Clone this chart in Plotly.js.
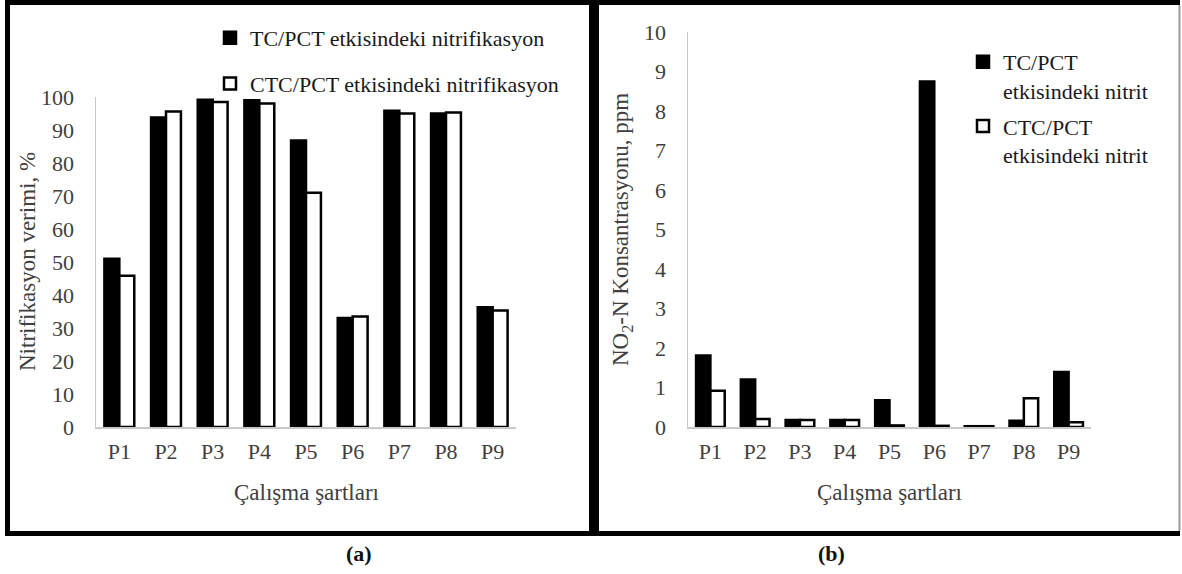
<!DOCTYPE html>
<html>
<head>
<meta charset="utf-8">
<script src="https://cdn.plot.ly/plotly-3.0.1.min.js"></script>
<style>
  html, body { margin: 0; padding: 0; background: #ffffff; }
  #chart { width: 1182px; height: 574px; }
</style>
</head>
<body>
<div id="chart"></div>
<script>
// ---- data ----
const categories = ['P1', 'P2', 'P3', 'P4', 'P5', 'P6', 'P7', 'P8', 'P9'];

// (a) Nitrifikasyon verimi, %
const nitrifikasyonTC  = [51, 93.8, 99.2, 99, 86.8, 33, 95.8, 95, 36.3];
const nitrifikasyonCTC = [45.8, 95.6, 98.5, 98, 71, 33.5, 95, 95.3, 35.3];

// (b) NO2-N Konsantrasyonu, ppm
const nitritTC  = [1.81, 1.2, 0.18, 0.18, 0.68, 8.75, 0.02, 0.16, 1.39];
const nitritCTC = [0.92, 0.2, 0.18, 0.18, 0.04, 0.03, 0.02, 0.73, 0.12];

const yTicksA = [0, 10, 20, 30, 40, 50, 60, 70, 80, 90, 100];
const yTicksB = [0, 1, 2, 3, 4, 5, 6, 7, 8, 9, 10];

const legendNamesA = ['TC/PCT etkisindeki nitrifikasyon', 'CTC/PCT etkisindeki nitrifikasyon'];
const legendNamesB = ['TC/PCT<br>etkisindeki nitrit', 'CTC/PCT<br>etkisindeki nitrit'];

// ---- styling ----
const W = 1182, H = 574;
const SERIF = "'Liberation Serif', 'Times New Roman', serif";
const px = x => x / W;
const py = y => 1 - y / H;

const traces = [
  { type: 'bar', x: categories, y: nitrifikasyonTC, name: legendNamesA[0],
    xaxis: 'x', yaxis: 'y', legend: 'legend', legendgroup: 'a1',
    marker: { color: '#000000', line: { color: '#000000', width: 2.5 } } },
  { type: 'bar', x: categories, y: nitrifikasyonCTC, name: legendNamesA[1],
    xaxis: 'x', yaxis: 'y', legend: 'legend', legendgroup: 'a2',
    marker: { color: '#ffffff', line: { color: '#000000', width: 2.5 } } },
  { type: 'bar', x: categories, y: nitritTC, name: legendNamesB[0],
    xaxis: 'x2', yaxis: 'y2', legend: 'legend2', legendgroup: 'b1',
    marker: { color: '#000000', line: { color: '#000000', width: 2.5 } } },
  { type: 'bar', x: categories, y: nitritCTC, name: legendNamesB[1],
    xaxis: 'x2', yaxis: 'y2', legend: 'legend2', legendgroup: 'b2',
    marker: { color: '#ffffff', line: { color: '#000000', width: 2.5 } } }
];

const tickFont = { family: SERIF, size: 22, color: '#404040' };
const titleFont = { family: SERIF, size: 23, color: '#404040' };

function xAxis(domain, anchor) {
  return {
    domain: domain, anchor: anchor, type: 'category',
    showline: true, linecolor: '#c8c8c8', linewidth: 1.5,
    showgrid: false, zeroline: false, ticks: '',
    ticklabelstandoff: 4, tickfont: tickFont, fixedrange: true
  };
}
function yAxis(domain, anchor, range, tickvals) {
  return {
    domain: domain, anchor: anchor, range: range,
    tickmode: 'array', tickvals: tickvals,
    showline: true, linecolor: '#c8c8c8', linewidth: 1.5,
    showgrid: false, zeroline: false, ticks: '',
    ticklabelstandoff: 16, tickfont: tickFont, fixedrange: true
  };
}

const black = '#000000';
const shapes = [
  // outer frame and divider
  { type: 'line', xref: 'paper', yref: 'paper', x0: px(5), x1: px(1180), y0: py(2.5), y1: py(2.5), line: { color: black, width: 5 } },
  { type: 'line', xref: 'paper', yref: 'paper', x0: px(5), x1: px(1180), y0: py(533.5), y1: py(533.5), line: { color: black, width: 5 } },
  { type: 'line', xref: 'paper', yref: 'paper', x0: px(7.5), x1: px(7.5), y0: py(0), y1: py(536), line: { color: black, width: 5 } },
  { type: 'line', xref: 'paper', yref: 'paper', x0: px(594), x1: px(594), y0: py(0), y1: py(536), line: { color: black, width: 10 } },
  { type: 'line', xref: 'paper', yref: 'paper', x0: px(1179.5), x1: px(1179.5), y0: py(5), y1: py(531), line: { color: '#9a9a9a', width: 2 } }
];

const annotations = [
  { xref: 'paper', yref: 'paper', x: px(27), y: py(262), text: 'Nitrifikasyon verimi, %',
    textangle: -90, showarrow: false, font: titleFont, xanchor: 'center', yanchor: 'middle' },
  { xref: 'paper', yref: 'paper', x: px(306), y: py(492), text: 'Çalışma şartları',
    showarrow: false, font: titleFont, xanchor: 'center', yanchor: 'middle' },
  { xref: 'paper', yref: 'paper', x: px(622), y: py(229), text: 'NO<sub>2</sub>-N Konsantrasyonu, ppm',
    textangle: -90, showarrow: false, font: titleFont, xanchor: 'center', yanchor: 'middle' },
  { xref: 'paper', yref: 'paper', x: px(889), y: py(492), text: 'Çalışma şartları',
    showarrow: false, font: titleFont, xanchor: 'center', yanchor: 'middle' },
  { xref: 'paper', yref: 'paper', x: px(359), y: py(553), text: '<b>(a)</b>',
    showarrow: false, font: { family: SERIF, size: 22, color: '#111111' }, xanchor: 'center', yanchor: 'middle' },
  { xref: 'paper', yref: 'paper', x: px(831), y: py(553), text: '<b>(b)</b>',
    showarrow: false, font: { family: SERIF, size: 22, color: '#111111' }, xanchor: 'center', yanchor: 'middle' }
];

const legendFont = { family: SERIF, size: 22, color: '#1a1a1a' };

const layout = {
  width: W, height: H,
  margin: { l: 0, r: 0, t: 0, b: 0, pad: 0 },
  paper_bgcolor: '#ffffff', plot_bgcolor: '#ffffff',
  font: { family: SERIF },
  barmode: 'group', bargap: 0.36, bargroupgap: 0,
  showlegend: true,
  xaxis: xAxis([px(96), px(516)], 'y'),
  yaxis: yAxis([py(427), py(97)], 'x', [0, 100], yTicksA),
  xaxis2: xAxis([px(688), px(1091)], 'y2'),
  yaxis2: yAxis([py(427), py(32)], 'x2', [0, 10], yTicksB),
  legend: {
    x: px(210), y: py(17), xanchor: 'left', yanchor: 'top',
    font: legendFont, bgcolor: 'rgba(0,0,0,0)', tracegroupgap: 14,
    orientation: 'v', traceorder: 'grouped'
  },
  legend2: {
    x: px(963), y: py(41), xanchor: 'left', yanchor: 'top', valign: 'top',
    font: legendFont, bgcolor: 'rgba(0,0,0,0)', tracegroupgap: 4,
    orientation: 'v', traceorder: 'grouped'
  },
  shapes: shapes,
  annotations: annotations
};

Plotly.newPlot('chart', traces, layout, { displayModeBar: false, staticPlot: true });
</script>
</body>
</html>
